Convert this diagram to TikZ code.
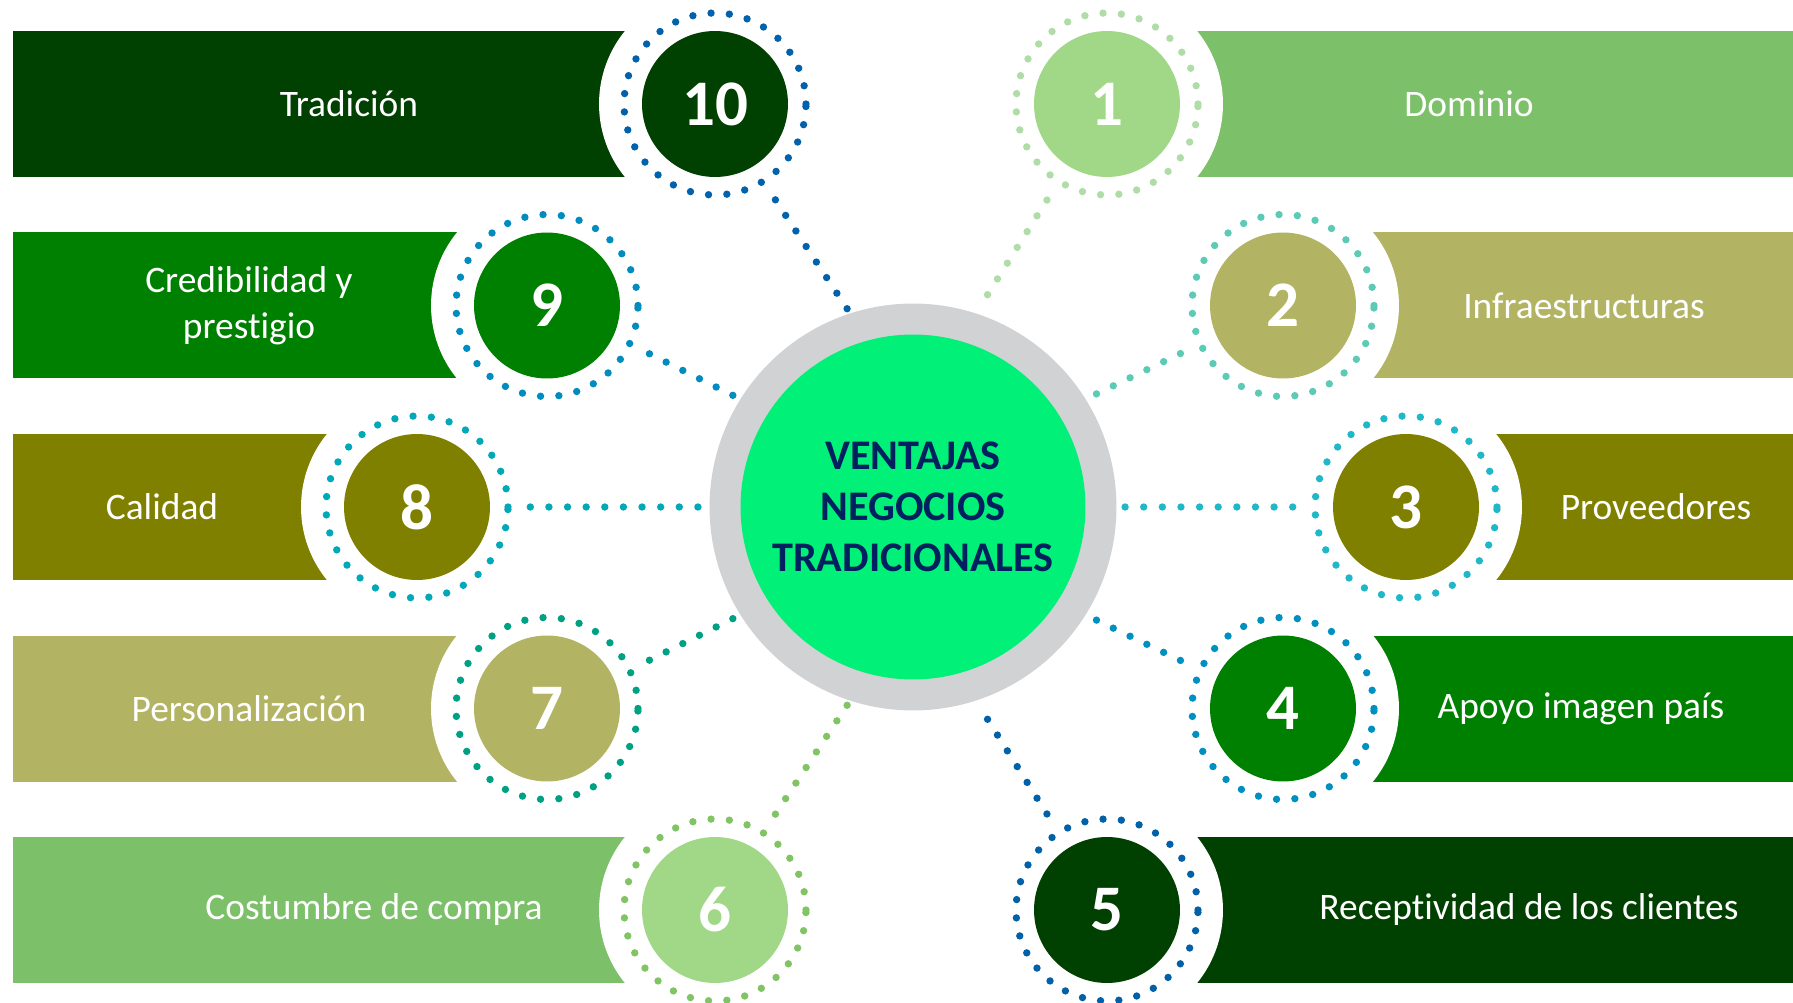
\documentclass[tikz,border=0pt]{standalone}
\usepackage{fontspec}
\setmainfont[Ligatures=NoCommon]{Carlito}
\usetikzlibrary{positioning}
\definecolor{dkgreen}{HTML}{004000}
\definecolor{midgreen}{HTML}{008000}
\definecolor{olive}{HTML}{808000}
\definecolor{khaki}{HTML}{B2B464}
\definecolor{ltgreen}{HTML}{7DC06A}
\definecolor{palegreen}{HTML}{A0D888}
\definecolor{mint}{HTML}{00F078}
\definecolor{ringgray}{HTML}{D1D2D4}
\definecolor{navy}{HTML}{002060}
\definecolor{dot1}{HTML}{B0DCA8}
\definecolor{dot2}{HTML}{5CCAB4}
\definecolor{dot3}{HTML}{1EB8C8}
\definecolor{dot4}{HTML}{0090C0}
\definecolor{dot5}{HTML}{0060A8}
\definecolor{dot6}{HTML}{80C464}
\definecolor{dot7}{HTML}{00A082}
\definecolor{dot8}{HTML}{00A8B8}
\definecolor{dot9}{HTML}{008CBE}
\definecolor{dot10}{HTML}{0062AC}

\begin{document}
\begin{tikzpicture}[x=0.02cm,y=0.02cm]
\tikzstyle{cut}=[circle,fill=white,minimum size=4.64cm,inner sep=0pt]
\tikzstyle{ring}=[circle,minimum size=3.64cm,inner sep=0pt,line width=4.2pt,line cap=round,dash pattern=on 0pt off 10.45pt]
\tikzstyle{num}=[circle,minimum size=2.92cm,inner sep=0pt,text=white,font=\bfseries\fontsize{37}{40}\selectfont]
\tikzstyle{lab}=[text=white,align=center,font=\fontsize{21.3}{26}\selectfont]
\tikzstyle{link}=[line width=4.2pt,line cap=round,dash pattern=on 0pt off 10.6pt,shorten <=10.6pt,shorten >=3pt]
\useasboundingbox (0,0) rectangle (1793,1002);
%Bands left
\fill[dkgreen] (12.5,825) rectangle (715,971);
\fill[midgreen] (12.5,623.5) rectangle (547,769.5);
\fill[olive] (12.5,422) rectangle (417,568);
\fill[khaki] (12.5,220.5) rectangle (547,366.5);
\fill[ltgreen] (12.5,19) rectangle (715,165);
%Bands right
\fill[ltgreen] (1107,825) rectangle (1793,971);
\fill[khaki] (1283,623.5) rectangle (1793,769.5);
\fill[olive] (1406,422) rectangle (1793,568);
\fill[midgreen] (1283,220.5) rectangle (1793,366.5);
\fill[dkgreen] (1107,19) rectangle (1793,165);
%White cuts
\node[cut](w10) at (715,898){};
\node[cut](w9) at (547,696.5){};
\node[cut](w8) at (417,495){};
\node[cut](w7) at (547,293.5){};
\node[cut](w6) at (715,92){};
\node[cut](w1) at (1107,898){};
\node[cut](w2) at (1283,696.5){};
\node[cut](w3) at (1406,495){};
\node[cut](w4) at (1283,293.5){};
\node[cut](w5) at (1107,92){};
%Dotted rings
\node[ring,draw=dot10](r10) at (w10){};
\node[ring,draw=dot9](r9) at (w9){};
\node[ring,draw=dot8](r8) at (w8){};
\node[ring,draw=dot7](r7) at (w7){};
\node[ring,draw=dot6](r6) at (w6){};
\node[ring,draw=dot1](r1) at (w1){};
\node[ring,draw=dot2](r2) at (w2){};
\node[ring,draw=dot3](r3) at (w3){};
\node[ring,draw=dot4](r4) at (w4){};
\node[ring,draw=dot5](r5) at (w5){};
%Numbers
\node[num,fill=dkgreen](n10) at (r10){10};
\node[num,fill=midgreen](n9) at (r9){9};
\node[num,fill=olive](n8) at (r8){8};
\node[num,fill=khaki](n7) at (r7){7};
\node[num,fill=palegreen](n6) at (r6){6};
\node[num,fill=palegreen](n1) at (r1){1};
\node[num,fill=khaki](n2) at (r2){2};
\node[num,fill=olive](n3) at (r3){3};
\node[num,fill=midgreen](n4) at (r4){4};
\node[num,fill=dkgreen](n5) at (r5){5};
%Labels
\node[lab](t10) at (349,898){Tradición};
\node[lab](t9) at (249,696.5){Credibilidad y\\prestigio};
\node[lab](t8) at (162,495){Calidad};
\node[lab](t7) at (249,293.5){Personalización};
\node[lab](t6) at (374,92){Costumbre de compra};
\node[lab](t1) at (1469,898){Dominio};
\node[lab](t2) at (1584,696.5){Infraestructuras};
\node[lab](t3) at (1656,495){Proveedores};
\node[lab](t4) at (1581,293.5){Apoyo imagen país};
\node[lab](t5) at (1529,92){Receptividad de los clientes};
%Centre
\node[circle,fill=ringgray,minimum size=8.14cm,inner sep=0pt](cen) at (913,495){};
\node[circle,fill=mint,minimum size=6.9cm,inner sep=0pt,text=navy,align=center,
  font=\bfseries\fontsize{24}{29.2}\selectfont](title) at (cen){VENTAJAS\\NEGOCIOS\\TRADICIONALES};
%Links
\draw[link,dot10] (r10.-58) -- (cen.108);
\draw[link,dot9] (r9.-25) -- (cen.148);
\draw[link,dot8] (r8.0) -- (cen.180);
\draw[link,dot7] (r7.25) -- (cen.212);
\draw[link,dot6] (r6.58) -- (cen.252);
\draw[link,dot1] (r1.238) -- (cen.72);
\draw[link,dot2] (r2.205) -- (cen.32);
\draw[link,dot3] (r3.180) -- (cen.0);
\draw[link,dot4] (r4.155) -- (cen.-32);
\draw[link,dot5] (r5.122) -- (cen.-72);
\end{tikzpicture}
\end{document}
